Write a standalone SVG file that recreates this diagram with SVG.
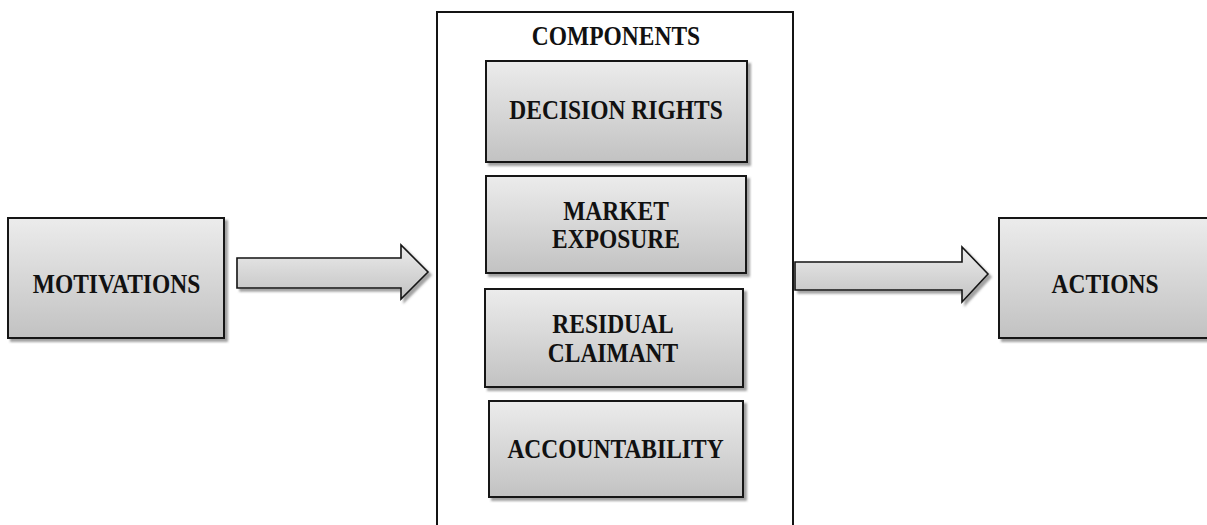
<svg xmlns="http://www.w3.org/2000/svg" width="1207" height="525" viewBox="0 0 1207 525">
  <defs>
    <linearGradient id="boxFill" x1="0" y1="0" x2="0" y2="1">
      <stop offset="0" stop-color="#ececec"/>
      <stop offset="1" stop-color="#c2c2c2"/>
    </linearGradient>
    <filter id="shadow" x="-5%" y="-5%" width="115%" height="125%">
      <feDropShadow dx="3" dy="3" stdDeviation="1.3" flood-color="#555" flood-opacity="0.55"/>
    </filter>
    <style>
      .box { fill: url(#boxFill); stroke: #141414; stroke-width: 2; filter: url(#shadow); }
      .frame { fill: #ffffff; stroke: #141414; stroke-width: 2; }
      .arrow { fill: url(#boxFill); stroke: #141414; stroke-width: 1.6; stroke-linejoin: miter; filter: url(#shadow); }
      .label { font-family: "Liberation Serif", "Times New Roman", serif; font-weight: bold; font-size: 23.5px; fill: #111; text-anchor: middle; }
    </style>
  </defs>

  <!-- outer container for the components -->
  <g id="components">
    <rect class="frame" x="437" y="12" width="356" height="530"/>
    <text class="label" transform="translate(616 45) scale(1 1.12)">COMPONENTS</text>
  </g>

  <g id="motivations">
    <rect class="box" x="8" y="218" width="216" height="120"/>
    <text class="label" transform="translate(116.5 293) scale(1 1.12)">MOTIVATIONS</text>
  </g>

  <g id="decision-rights">
    <rect class="box" x="486" y="61" width="261" height="101"/>
    <text class="label" transform="translate(616 119) scale(1 1.12)">DECISION RIGHTS</text>
  </g>

  <g id="market-exposure">
    <rect class="box" x="486" y="176" width="260" height="97"/>
    <text class="label" transform="translate(616 220) scale(1 1.12)">MARKET</text>
    <text class="label" transform="translate(616 248) scale(1 1.12)">EXPOSURE</text>
  </g>

  <g id="residual-claimant">
    <rect class="box" x="485" y="289" width="258" height="98"/>
    <text class="label" transform="translate(613 333) scale(1 1.12)">RESIDUAL</text>
    <text class="label" transform="translate(613 361.5) scale(1 1.12)">CLAIMANT</text>
  </g>

  <g id="accountability">
    <rect class="box" x="489" y="401" width="254" height="96"/>
    <text class="label" transform="translate(615.5 458) scale(1 1.12)">ACCOUNTABILITY</text>
  </g>

  <g id="actions">
    <rect class="box" x="999" y="218" width="214" height="120"/>
    <text class="label" transform="translate(1105 293) scale(1 1.12)">ACTIONS</text>
  </g>

  <!-- block arrows between stages -->
  <g id="connectors">
    <polygon class="arrow" points="237,258 401,258 401,245 428,272 401,299 401,288 237,288"/>
    <polygon class="arrow" points="795,262 962,262 962,247 988,274 962,302 962,290 795,290"/>
  </g>
</svg>
